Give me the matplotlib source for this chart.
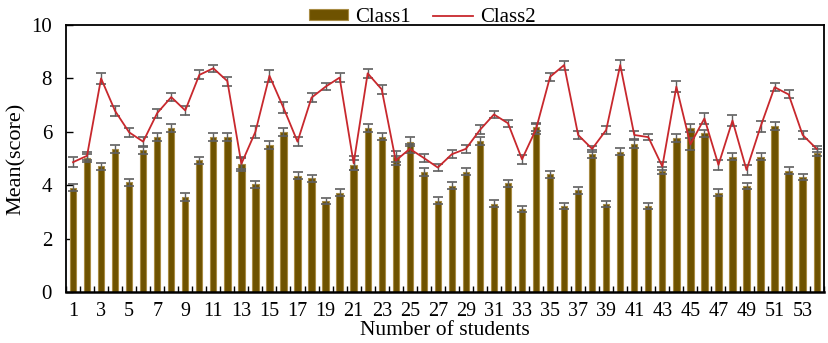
import matplotlib
matplotlib.use("Agg")
import matplotlib.pyplot as plt
import numpy as np

students = list(range(1, 55))
class1 = [3.9, 5.0, 4.7, 5.35, 4.1, 5.3, 5.8, 6.15, 3.55, 4.93,
          5.8, 5.8, 4.8, 4.03, 5.5, 6.0, 4.36, 4.26, 3.41, 3.72,
          4.76, 6.15, 5.82, 5.07, 5.63, 4.5, 3.42, 3.98, 4.5, 5.67,
          3.3, 4.07, 3.1, 6.19, 4.4, 3.22, 3.8, 5.17, 3.3, 5.26,
          5.54, 3.22, 4.54, 5.76, 6.15, 5.94, 3.72, 5.07, 3.97, 5.07,
          6.22, 4.54, 4.3, 5.22]
class1_err = [0.13, 0.15, 0.13, 0.14, 0.14, 0.14, 0.15, 0.14, 0.14, 0.13,
              0.14, 0.14, 0.2, 0.12, 0.14, 0.14, 0.13, 0.13, 0.12, 0.13,
              0.2, 0.14, 0.13, 0.2, 0.16, 0.14, 0.13, 0.13, 0.13, 0.15,
              0.13, 0.13, 0.12, 0.15, 0.14, 0.12, 0.13, 0.14, 0.12, 0.14,
              0.14, 0.12, 0.13, 0.14, 0.15, 0.14, 0.13, 0.13, 0.12, 0.13,
              0.14, 0.13, 0.12, 0.12]
class2 = [4.86, 5.1, 8.0, 6.78, 5.98, 5.63, 6.7, 7.3, 6.8, 8.13,
          8.38, 7.9, 4.8, 6.0, 8.1, 6.9, 5.63, 7.28, 7.69, 8.03,
          4.82, 8.19, 7.59, 4.92, 5.36, 5.02, 4.66, 5.16, 5.36, 6.07,
          6.65, 6.32, 4.97, 6.1, 8.06, 8.5, 5.88, 5.36, 6.07, 8.5,
          5.88, 5.8, 4.7, 7.69, 5.53, 6.5, 4.76, 6.42, 4.57, 6.19,
          7.67, 7.4, 5.88, 5.36]
class2_err = [0.18, 0.16, 0.2, 0.18, 0.16, 0.16, 0.17, 0.16, 0.16, 0.17,
              0.14, 0.17, 0.26, 0.22, 0.22, 0.2, 0.17, 0.17, 0.14, 0.16,
              0.27, 0.17, 0.17, 0.17, 0.17, 0.16, 0.12, 0.14, 0.15, 0.17,
              0.13, 0.14, 0.17, 0.2, 0.16, 0.17, 0.15, 0.12, 0.15, 0.18,
              0.15, 0.12, 0.15, 0.2, 0.22, 0.2, 0.2, 0.2, 0.2, 0.2,
              0.16, 0.15, 0.15, 0.12]
tick_labels = [str(i) for i in range(1, 55, 2)]

plt.rcParams['font.family'] = ['Liberation Serif', 'DejaVu Serif']

fig = plt.figure(figsize=(8.29, 3.43), dpi=100)
ax = fig.add_axes([0.0796, 0.149, 0.914, 0.778])

x = np.array(students)
bars = ax.bar(x, class1, width=0.45, color='#6e5200', edgecolor='#a88c45',
              linewidth=0.8, label='Class1', zorder=2)
ax.errorbar(x, class1, yerr=class1_err, fmt='none', ecolor='#5f5f5f',
            elinewidth=1.0, capsize=3.5, capthick=1.2, zorder=3)
line, = ax.plot(x, class2, color='#c8282d', linewidth=1.3, label='Class2', zorder=4)
ax.errorbar(x, class2, yerr=class2_err, fmt='none', ecolor='#5f5f5f',
            elinewidth=1.0, capsize=3.5, capthick=1.2, zorder=3)

ax.set_xlim(0.5, 54.5)
ax.set_ylim(0, 10)
ax.set_yticks([0, 2, 4, 6, 8, 10])
ax.set_xticks(list(range(1, 55, 2)))
ax.set_xticklabels(tick_labels)
ax.set_xticks(np.arange(0.5, 55, 1), minor=True)
ax.tick_params(axis='x', which='major', length=0, labelsize=14.5, pad=7)
ax.tick_params(axis='x', which='minor', direction='in', length=4, width=1.0)
ax.tick_params(axis='y', which='major', direction='in', length=5, width=1.0,
               labelsize=15, pad=10)
for s in ax.spines.values():
    s.set_linewidth(1.3)
ax.spines['bottom'].set_linewidth(1.8)

ax.set_ylabel('Mean(score)', fontsize=16, labelpad=4)
ax.set_xlabel('Number of students', fontsize=15.5, labelpad=0)

ax.legend(handles=[bars, line], labels=['Class1', 'Class2'],
          loc='lower center', bbox_to_anchor=(0.47, 0.985), ncol=2,
          frameon=False, fontsize=15, handlelength=1.9, handleheight=0.4,
          columnspacing=1.05, handletextpad=0.35, borderaxespad=0, borderpad=0.1)

fig.savefig('out.png', dpi=100)
